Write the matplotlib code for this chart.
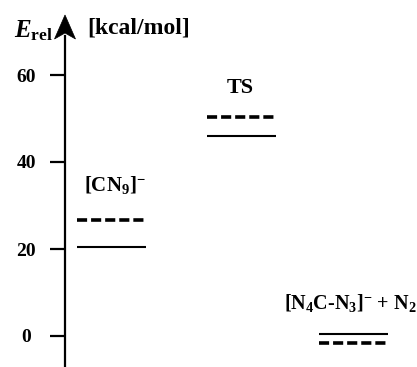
import numpy as np
import matplotlib
matplotlib.use("Agg")
import matplotlib.pyplot as plt
from matplotlib.patches import Polygon

plt.rcParams['font.family'] = ['Liberation Serif', 'DejaVu Serif']
plt.rcParams['font.weight'] = 'bold'
plt.rcParams['mathtext.fontset'] = 'custom'
plt.rcParams['mathtext.rm'] = 'Liberation Serif:bold'
plt.rcParams['mathtext.bf'] = 'Liberation Serif:bold'
plt.rcParams['mathtext.it'] = 'Liberation Serif:italic:bold'

## DATA
state_labels = [r"[CN$_9$]$^{-}$", "TS", r"[N$_4$C-N$_3$]$^{-}$ + N$_2$"]
e_solid = [20.5, 45.9, 0.4]        # kcal/mol, solid levels
e_dashed = [26.7, 50.4, -1.5]      # kcal/mol, dashed levels
yticks = [0, 20, 40, 60]

## LAYOUT (pixels of a 417x367 figure)
W, H = 417, 367
px_per_unit = 4.35
y0_px = 336                     # pixel row of E = 0
x_axis_px = 65
top_px = 36
centers = [46.5, 176.5, 288.5]  # level centres, px right of the axis
half_w = 34.5
label_y = [34.8, 57.0, 7.6]
label_dx = [3, -1, -3]
label_size = [15, 16, 14.5]

fig = plt.figure(figsize=(W / 100, H / 100), dpi=100)
ax = fig.add_axes([x_axis_px / W, 0, (W - x_axis_px) / W, (H - top_px) / H])
ax.set_xlim(0, W - x_axis_px)
ax.set_ylim(-(H - y0_px) / px_per_unit, (y0_px - top_px) / px_per_unit)

for c, es, ed in zip(centers, e_solid, e_dashed):
    ax.plot([c - half_w, c + half_w], [es, es], color='k', lw=1.5, solid_capstyle='butt')
    ax.plot([c - half_w, c + half_w], [ed, ed], color='k', lw=2.6,
            dashes=(2.8, 1.1), dash_capstyle='butt')

for c, ly, dx, lab, fs in zip(centers, label_y, label_dx, state_labels, label_size):
    ax.text(c + dx, ly, lab, ha='center', va='center', fontsize=fs, fontweight='bold')

for s in ['top', 'right', 'bottom']:
    ax.spines[s].set_visible(False)
ax.spines['left'].set_linewidth(1.6)
ax.set_xticks([])
ax.set_yticks(yticks)
ax.tick_params(axis='y', length=11, width=1.6, pad=17, labelsize=14)
for t in ax.get_yticklabels():
    t.set_horizontalalignment('center')
    t.set_fontweight('bold')

# arrow head (stealth shape) on top of the axis, in figure pixels
arrow_px = [(65, 15), (75.5, 39), (65, 33), (54.5, 39)]
arrow = Polygon([(x / 100, (H - y) / 100) for x, y in arrow_px], closed=True,
                facecolor='k', edgecolor='k', lw=0.5, transform=fig.dpi_scale_trans)
fig.patches.append(arrow)

fig.text(14 / W, 1 - 31 / H, r"$E_{\mathrm{rel}}$", fontsize=18, va='center', ha='left')
fig.text(87 / W, 1 - 28 / H, "[kcal/mol]", fontsize=17, fontweight='bold', va='center', ha='left')

fig.savefig("out.png", dpi=100)
